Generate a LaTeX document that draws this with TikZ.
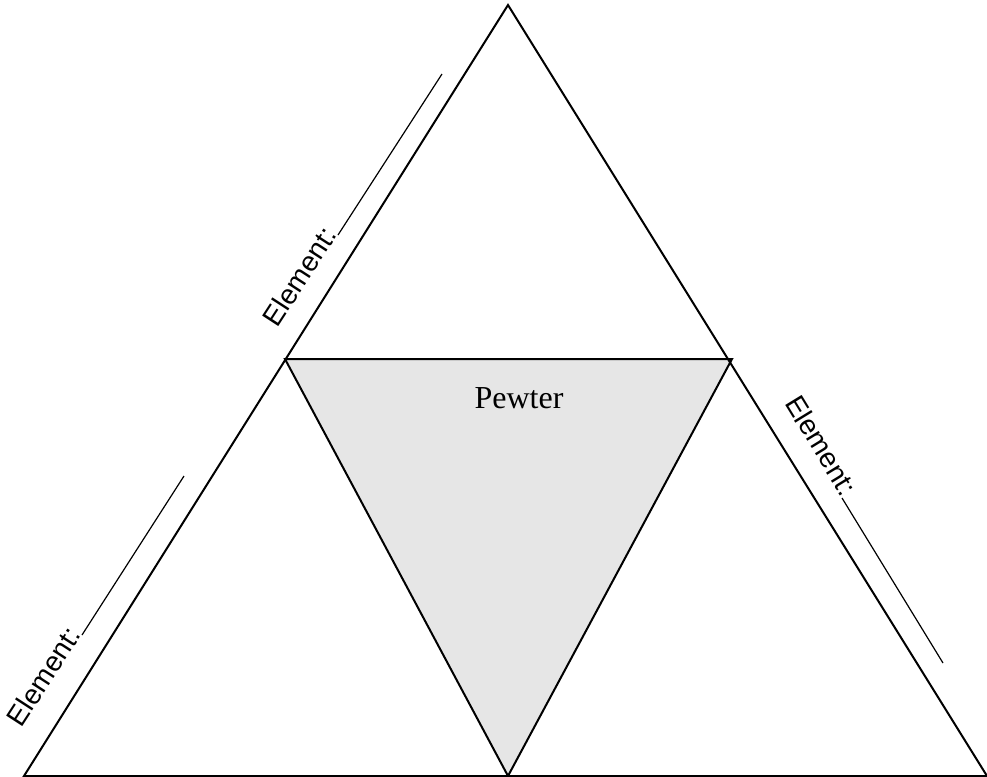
\documentclass[tikz,border=0pt]{standalone}
\usepackage{fontspec}
\setmainfont{Liberation Serif}
\newfontfamily\elfont{Liberation Sans}
\definecolor{PewterGray}{HTML}{E6E6E6}
\usetikzlibrary{positioning}

\begin{document}
\begin{tikzpicture}[x=0.5pt, y=-0.5pt,
      edge/.style={black, line width=1pt, line join=miter},
      blank/.style={black, line width=0.6pt},
      elabel/.style={font=\elfont\fontsize{14}{16}\selectfont, inner sep=0pt, anchor=base east}]
      \useasboundingbox (0,0) rectangle (987,777);
      % Corners of the big triangle
      \coordinate (apex) at (508,5);
      \coordinate (left) at (24,776);
      \coordinate (right) at (987,776);
      % Corners of the inner triangle
      \coordinate (midL) at (285,359);
      \coordinate (midR) at (732,359);
      \coordinate (midB) at (508,776);
      % Pewter (shaded middle)
      \fill[PewterGray] (midL) -- (midR) -- (midB) -- cycle;
      \node[font=\fontsize{16}{18}\selectfont] (pewter) at (519,398) {Pewter};
      % Outer triangle
      \draw[edge] (apex) -- (left) -- (right) -- cycle;
      % Inner triangle
      \draw[edge] (midL) -- (midR) -- (midB) -- cycle;
      % Element labels with blanks
      \node[elabel, rotate=57] (elTop) at (338,235) {Element:};
      \coordinate (blankTop) at (442,74);
      \draw[blank] (elTop.base east) -- (blankTop);
      \node[elabel, rotate=57] (elLeft) at (82,635) {Element:};
      \coordinate (blankLeft) at (184,476);
      \draw[blank] (elLeft.base east) -- (blankLeft);
      \node[elabel, rotate=-58.5] (elRight) at (842,498) {Element:};
      \coordinate (blankRight) at (943,663);
      \draw[blank] (elRight.base east) -- (blankRight);
   \end{tikzpicture}
\end{document}
